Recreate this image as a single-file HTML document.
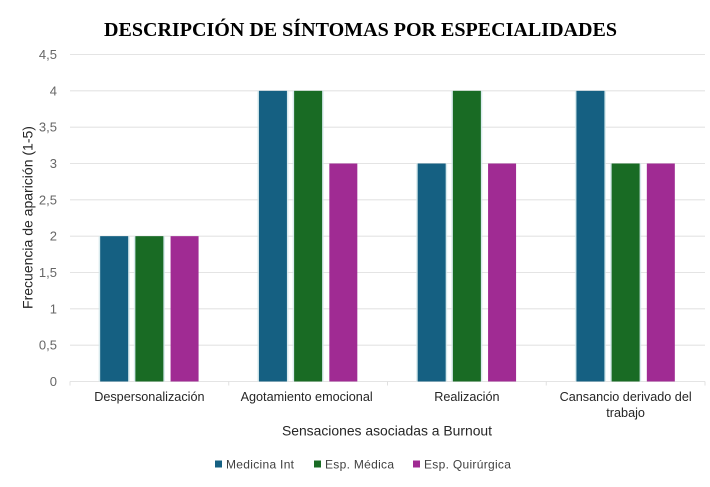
<!DOCTYPE html>
<html lang="es">
<head>
<meta charset="utf-8">
<title>Descripción de síntomas por especialidades</title>
<style>
html,body{margin:0;padding:0;background:#fff;}
body{width:710px;height:487px;overflow:hidden;}
svg{display:block;filter:blur(0.35px);}
text{font-family:"Liberation Sans",sans-serif;}
</style>
</head>
<body>
<svg id="chart" width="710" height="487" viewBox="0 0 710 487" xmlns="http://www.w3.org/2000/svg">
<rect x="0" y="0" width="710" height="487" fill="#ffffff"/>
<text x="360.5" y="36" text-anchor="middle" font-size="20" font-weight="bold" fill="#000" style="font-family:'Liberation Serif',serif" textLength="513" lengthAdjust="spacingAndGlyphs">DESCRIPCIÓN DE SÍNTOMAS POR ESPECIALIDADES</text>
<text transform="translate(32.5,217.5) rotate(-90)" text-anchor="middle" font-size="14" fill="#262626">Frecuencia de aparición (1-5)</text>
<text x="387" y="435.5" text-anchor="middle" font-size="13.9" fill="#262626">Sensaciones asociadas a Burnout</text>
<g id="grid"></g>
<g id="shadows"></g>
<g id="bars"></g>
<g id="cats"></g>
<g id="legend"></g>
</svg>
<script>
const categories = [["Despersonalización"], ["Agotamiento emocional"], ["Realización"], ["Cansancio derivado del", "trabajo"]];
const seriesNames = ["Medicina Int", "Esp. Médica", "Esp. Quirúrgica"];
const medicinaInt = [2, 4, 3, 4];
const espMedica = [2, 4, 4, 3];
const espQuirurgica = [2, 3, 3, 3];
const yTicks = [0, 0.5, 1, 1.5, 2, 2.5, 3, 3.5, 4, 4.5];
const yTickLabels = ["0", "0,5", "1", "1,5", "2", "2,5", "3", "3,5", "4", "4,5"];

const NS = "http://www.w3.org/2000/svg";
const seriesValues = [medicinaInt, espMedica, espQuirurgica];
const seriesColors = ["#156082", "#196B24", "#A02B93"];
const plotLeft = 70, plotRight = 705, plotTop = 54.5, plotBottom = 381.5, yMax = 4.5;
function yPos(v) { return plotBottom - (v / yMax) * (plotBottom - plotTop); }
function catWidth() { return (plotRight - plotLeft) / categories.length; }
function catCenter(i) { return plotLeft + catWidth() * (i + 0.5); }
function barX(i, s) { return catCenter(i) - 49.2 + s * 35.2; }
function make(tag, attrs, parent, txt) {
  const el = document.createElementNS(NS, tag);
  for (const k in attrs) el.setAttribute(k, attrs[k]);
  if (txt !== undefined) el.textContent = txt;
  parent.appendChild(el);
  return el;
}
const grid = document.getElementById("grid");
const shadows = document.getElementById("shadows");
const bars = document.getElementById("bars");
const cats = document.getElementById("cats");
const legend = document.getElementById("legend");

yTicks.forEach(function (t, i) {
  const line = make("line", {x1: plotLeft, x2: plotRight, y1: yPos(t), y2: yPos(t), stroke: "#e4e4e4", "stroke-width": 1.1}, grid);
  
  
  const label = make("text", {x: 57, y: yPos(t) + 4.5, "text-anchor": "end", "font-size": 13, fill: "#666666"}, grid, yTickLabels[i]);
  
  
});
for (let i = 0; i <= categories.length; i++) {
  const x = plotLeft + catWidth() * i;
  const tick = make("line", {x1: x, x2: x, y1: plotBottom, y2: plotBottom + 4, stroke: "#e0e0e0", "stroke-width": 1}, grid);
  
  
}
categories.forEach(function (lines, i) {
  lines.forEach(function (ln, j) {
    const label = make("text", {x: catCenter(i) - (i === 1 ? 1.5 : 0), y: 401 + j * 16, "text-anchor": "middle", "font-size": 12.65, fill: "#262626"}, cats, ln);
    
    
  });
  seriesValues.forEach(function (vals, s) {
    const x = barX(i, s), y = yPos(vals[i]);
    const h = plotBottom - y;
    const glow = make("rect", {x: x - 1.5, y: y, width: 31, height: h, fill: "#cfe6ea", opacity: s === 2 ? 0 : 0.8}, shadows);
    
    
    const bar = make("rect", {x: x, y: y, width: 28, height: h, fill: seriesColors[s]}, bars);
    
    
  });
});
const legendSwatchX = [215, 314, 413];
seriesNames.forEach(function (name, s) {
  const swatch = make("rect", {x: legendSwatchX[s], y: 460.5, width: 7, height: 7, fill: seriesColors[s]}, legend);
  
  
  const label = make("text", {x: legendSwatchX[s] + 11, y: 468.5, "font-size": 12, fill: "#404040", "letter-spacing": "0.3"}, legend, name);
  
  
});
</script>
</body>
</html>
